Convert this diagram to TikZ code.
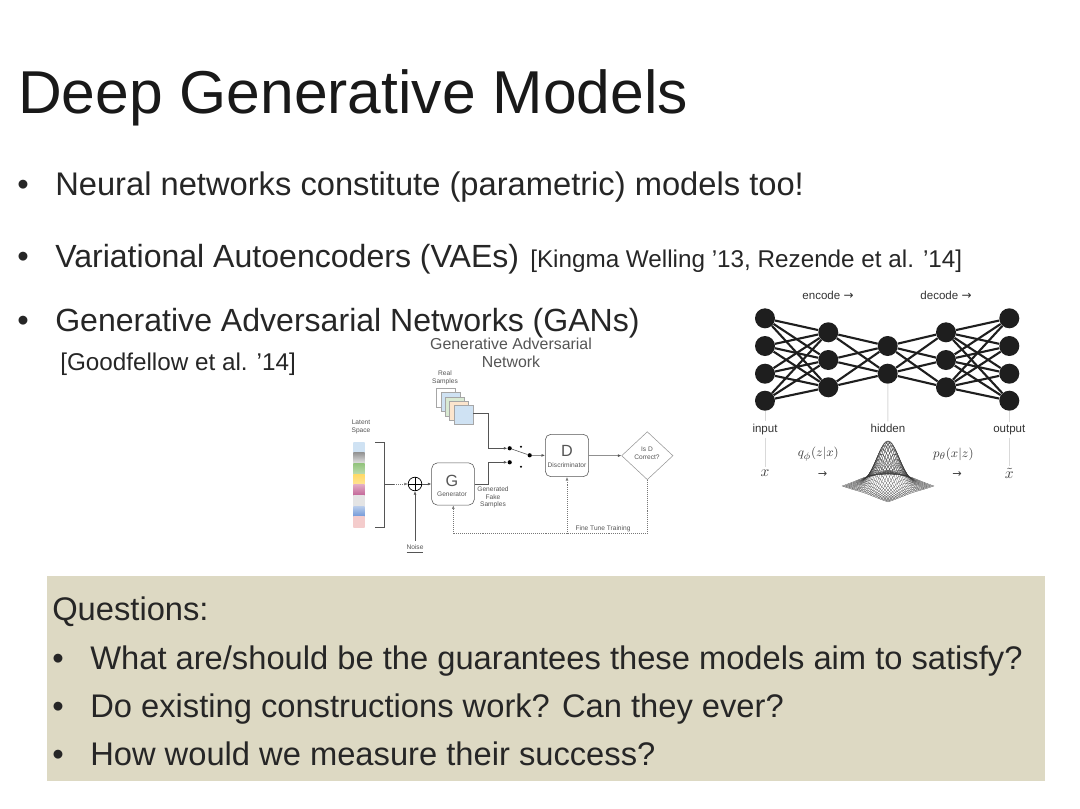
\documentclass[tikz,border=0pt]{standalone}
\usepackage{fontspec}
\setmainfont{Liberation Sans}
\newfontfamily\arrowfont{DejaVu Sans}
\usetikzlibrary{shapes.geometric,arrows.meta}

\definecolor{boxtan}{RGB}{221,217,195}
\definecolor{gantext}{RGB}{85,85,85}
\definecolor{neurondark}{RGB}{30,30,30}
\definecolor{paleblue}{RGB}{207,226,243}
\definecolor{palegreen}{RGB}{217,234,211}
\definecolor{palepeach}{RGB}{252,229,205}
\definecolor{palered}{RGB}{244,204,204}
\definecolor{midgreen}{RGB}{147,196,125}
\definecolor{lightgreen}{RGB}{190,220,175}
\definecolor{midyellow}{RGB}{255,217,102}
\definecolor{lightyellow}{RGB}{255,228,150}
\definecolor{midpink}{RGB}{194,100,150}
\definecolor{lightpink}{RGB}{225,170,195}
\definecolor{midblue}{RGB}{110,150,215}
\definecolor{lightblue}{RGB}{185,205,235}
\definecolor{midgray}{RGB}{150,150,150}
\definecolor{litegray}{RGB}{228,228,228}

\tikzset{
    titletext/.style={anchor=base west,inner sep=0pt,font=\fontsize{43.05}{50}\selectfont,text=black!90},
    bodytext/.style={anchor=base west,inner sep=0pt,font=\fontsize{23.25}{28}\selectfont,text=black!85},
    narrowtext/.style={bodytext,font=\fontsize{22.8}{28}\selectfont},
    citetext/.style={anchor=base west,inner sep=0pt,font=\fontsize{17.25}{21}\selectfont,text=black!85},
    gantitle/.style={inner sep=0pt,align=center,font=\fontsize{11.3}{12.8}\selectfont,text=gantext},
    gansmall/.style={inner sep=0pt,align=center,font=\fontsize{4.7}{5.4}\selectfont,text=gantext},
    ganletter/.style={inner sep=0pt,font=\fontsize{11.5}{13}\selectfont,text=gantext},
    ganbox/.style={draw=gantext,rounded corners=4pt,line width=0.4pt,inner sep=0pt},
    ganline/.style={draw=gantext,line width=0.4pt},
    ganarrow/.style={ganline,-{Latex[length=2.5pt,width=2pt]}},
    fineline/.style={ganline,draw=gantext!80,densely dotted},
    swdot/.style={circle,fill=black,inner sep=0pt,minimum size=3pt},
    sample/.style={draw=gray!70,line width=0.3pt,minimum size=13.5pt,inner sep=0pt},
    neuron/.style={circle,fill=neurondark,inner sep=0pt,minimum size=0.5cm},
    vaelabel/.style={inner sep=0pt,outer sep=2pt,font=\fontsize{8.2}{10}\selectfont,text=black!80},
    vaemath/.style={inner sep=0pt,outer sep=2pt,font=\fontsize{9.3}{11}\selectfont,text=black!75},
    guide/.style={draw=black!15,line width=0.7pt},
    weight/.style={draw=neurondark,line width=1.5pt},
    meshline/.style={draw=black!80,line width=0.12pt}
}

\begin{document}
\begin{tikzpicture}[x=0.025cm,y=-0.025cm]
    \useasboundingbox (0,0) rectangle (1080,809);

    % Slide text
    \node[titletext] (slidetitle) at (18,113) {Deep Generative Models};
    \node[bodytext] (bulleta) at (17,195) {•};
    \node[bodytext] (linea) at (55,195) {Neural networks constitute (parametric) models too!};
    \node[bodytext] (bulletb) at (17,267) {•};
    \node[narrowtext] (lineb) at (55,267) {Variational Autoencoders (VAEs)};
    \node[citetext] (citeb) at (530,267) {[Kingma Welling ’13, Rezende et al. ’14]};
    \node[bodytext] (bulletc) at (17,331) {•};
    \node[narrowtext] (linec) at (55,331) {Generative Adversarial Networks (GANs)};
    \node[citetext] (citec) at (60,370) {[Goodfellow et al. ’14]};

    % Questions box
    \fill[boxtan] (47,576) rectangle (1045,781);
    \node[bodytext] (questions) at (52,620) {Questions:};
    \node[bodytext] (bulletq) at (52,669) {•};
    \node[bodytext] (lineq) at (90,669) {What are/should be the guarantees these models aim to satisfy?};
    \node[bodytext] (bulletr) at (52,717) {•};
    \node[bodytext] (liner) at (90,717) {Do existing constructions work? Can they ever?};
    \node[bodytext] (bullets) at (52,765) {•};
    \node[bodytext] (lines) at (90,765) {How would we measure their success?};

    % GAN labels
    \node[gantitle] (gantitle) at (511,353) {Generative Adversarial\\Network};
    \node[gansmall] (reallabel) at (445,378) {Real\\Samples};
    \node[gansmall] (latentlabel) at (361,427) {Latent\\Space};
    \node[gansmall] (fakelabel) at (493,497.5) {Generated\\Fake\\Samples};
    \node[gansmall] (noiselabel) at (415,549) {\underline{Noise}};
    \node[gansmall] (finelabel) at (603,529) {Fine Tune Training};

    % Real sample stack
    \foreach \i/\xpos/\ypos/\col in {1/446/398/white,2/450.5/402/paleblue,3/455/406.5/palegreen,
        4/459/411/palepeach,5/463.5/415/paleblue} {
        \node[sample,fill=\col] (real\i) at (\xpos,\ypos) {};
    }

    % Latent space strip
    \foreach \i/\coltop/\colbot in {1/paleblue/paleblue,2/midgray/litegray,3/midgreen/lightgreen,
        4/midyellow/lightyellow,5/lightpink/midpink,6/litegray/litegray,7/lightblue/midblue,8/palered/palered} {
        \node[draw=none,top color=\coltop,bottom color=\colbot,inner sep=0pt,minimum width=0.285cm,minimum height=0.268cm]
            (latent\i) at (359,{436.7+\i*10.7}) {};
    }
    \draw[ganline,line width=0.6pt] (375,442) -- (384,442) -- (384,527) -- (375,527);

    % GAN blocks
    \node[ganbox,minimum width=1.065cm,minimum height=1.055cm] (gen) at (453,484) {};
    \node[ganletter] (gletter) at (452,481) {G};
    \node[gansmall] (genlabel) at (452,494) {Generator};
    \node[ganbox,minimum width=1.085cm,minimum height=1.06cm] (disc) at (567,455.5) {};
    \node[ganletter] (dletter) at (567,451) {D};
    \node[gansmall] (disclabel) at (567,465) {Discriminator};
    \node[diamond,draw=gantext!60,line width=0.4pt,inner sep=0pt,minimum width=1.285cm,minimum height=1.2cm,
        gansmall] (check) at (647.3,455.7) {};
    \node[gansmall] (checklabel) at (647,453.5) {Is D\\Correct?};
    \node[circle,draw=black,line width=0.5pt,inner sep=0pt,minimum size=0.34cm] (mix) at (415,484) {};
    \draw[black,line width=0.5pt] (mix.north) -- (mix.south) (mix.west) -- (mix.east);

    % Switch
    \node[swdot] (swa) at (509.7,448.3) {};
    \node[swdot] (swb) at (509.7,462.3) {};
    \node[swdot] (swout) at (529.7,455.3) {};
    \node[swdot,minimum size=1.5pt] (swc) at (521,446.7) {};
    \node[swdot,minimum size=1.5pt] (swd) at (521,466.7) {};

    % GAN connectors
    \coordinate (barmid) at (384,484);
    \coordinate (barhalf) at (394,484);
    \coordinate (noisetop) at (415,541);
    \coordinate (realturn) at (488,413);
    \coordinate (genturn) at (488,484);
    \coordinate (finecorner) at (647.3,533.3);
    \coordinate (finebranch) at (567,533.3);
    \coordinate (fineend) at (453.3,533.3);
    \draw[ganline] (barmid) -- (barhalf);
    \draw[fineline,->,>={Latex[length=2.5pt,width=2pt]}] (barhalf) -- (mix);
    \draw[ganarrow] (mix) -- (gen);
    \draw[ganarrow] (noisetop) -- (mix);
    \draw[ganarrow] (real5.east |- realturn) -- (realturn) |- (swa);
    \draw[ganarrow] (gen.east |- genturn) -- (genturn) |- (swb);
    \draw[ganline] (swa) -- (swout);
    \draw[ganarrow] (swout) -- (disc);
    \draw[ganarrow] (disc) -- (check);
    \draw[fineline] (check) -- (finecorner) -- (fineend);
    \draw[fineline,->,>={Latex[length=2.5pt,width=2pt]}] (finebranch) -- (disc.south);
    \draw[fineline,->,>={Latex[length=2.5pt,width=2pt]}] (fineend) -- (gen.south -| fineend);

    % VAE neurons
    \foreach \i/\ypos in {1/318.3,2/346,3/373.7,4/400.7} {
        \node[neuron] (in\i) at (765,\ypos) {};
        \node[neuron] (out\i) at (1009.3,\ypos) {};
    }
    \foreach \i/\ypos in {1/332.3,2/360,3/387.3} {
        \node[neuron] (enc\i) at (828.3,\ypos) {};
        \node[neuron] (dec\i) at (946,\ypos) {};
    }
    \node[neuron] (mid1) at (887.7,346) {};
    \node[neuron] (mid2) at (887.7,373.7) {};

    % VAE weights
    \foreach \i in {1,2,3,4} {
        \foreach \j in {1,2,3} {
            \draw[weight] (in\i) -- (enc\j);
            \draw[weight] (out\i) -- (dec\j);
        }
    }
    \foreach \i in {1,2} {
        \foreach \j in {1,2,3} {
            \draw[weight] (mid\i) -- (enc\j);
            \draw[weight] (mid\i) -- (dec\j);
        }
    }

    % VAE labels
    \node[vaelabel] (encodelabel) at (828,295.7) {encode {\arrowfont\fontsize{8.5}{8}\selectfont →}};
    \node[vaelabel] (decodelabel) at (946,295.7) {decode {\arrowfont\fontsize{8.5}{8}\selectfont →}};
    \node[vaelabel,anchor=base] (inputlabel) at (765,432.5) {input};
    \node[vaelabel,anchor=base] (hiddenlabel) at (888,432.5) {hidden};
    \node[vaelabel,anchor=base] (outputlabel) at (1009.3,432.5) {output};
    \node[vaemath,font=\fontsize{11}{12}\selectfont] (xin) at (765,473.5) {$x$};
    \node[vaemath,font=\fontsize{11}{12}\selectfont] (xout) at (1009.3,473.5) {$\tilde{x}$};
    \node[vaemath] (qlabel) at (818.3,454.3) {$q_\phi(z|x)$};
    \node[vaemath] (plabel) at (953.3,454.3) {$p_\theta(x|z)$};
    \node[vaemath,font=\arrowfont\fontsize{8}{8}\selectfont] (qarrow) at (822.7,474.3) {→};
    \node[vaemath,font=\arrowfont\fontsize{8}{8}\selectfont] (parrow) at (957,474.3) {→};
    \draw[guide] (in4) -- (inputlabel);
    \draw[guide] (inputlabel) -- (xin);
    \draw[guide] (mid2) -- (hiddenlabel);
    \draw[guide] (out4) -- (outputlabel);
    \draw[guide] (outputlabel) -- (xout);

    % Gaussian mesh
    \foreach \n in {0,...,30} {
        \pgfmathsetmacro\v{-1+\n/15}
        \draw[meshline] plot[domain=-1:1,samples=41,smooth]
            ({888+(\x-(\v))*23},{486+(\x+(\v))*8-45*exp(-4*(\x*\x+(\v)*(\v)))});
        \draw[meshline] plot[domain=-1:1,samples=41,smooth]
            ({888+((\v)-\x)*23},{486+(\x+(\v))*8-45*exp(-4*(\x*\x+(\v)*(\v)))});
    }
\end{tikzpicture}
\end{document}
